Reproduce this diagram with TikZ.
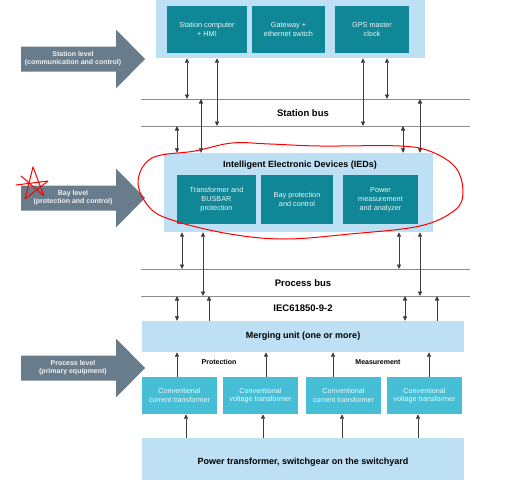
\documentclass[tikz,border=0pt]{standalone}
\usepackage{fontspec}
\setmainfont{Liberation Sans}
\usepackage{tikz}
\usetikzlibrary{arrows.meta}

\definecolor{panelblue}{HTML}{BDE0F5}
\definecolor{tealbox}{HTML}{0F8796}
\definecolor{cyanbox}{HTML}{45BED6}
\definecolor{levelgray}{HTML}{687C8B}
\definecolor{busgray}{HTML}{8C8C8C}
\definecolor{wirecol}{HTML}{3C3C3C}

\tikzset{
  panel/.style={fill=panelblue, inner sep=0pt, font=\bfseries\fontsize{9}{11}\selectfont, text=black},
  unitbox/.style={fill=tealbox, inner sep=0pt, align=center, text=white!92!tealbox, font=\fontsize{7.3}{9}\selectfont},
  ctbox/.style={fill=cyanbox, inner sep=0pt, align=center, text=white!92!cyanbox, font=\fontsize{7.2}{8.6}\selectfont},
  buslabel/.style={font=\bfseries\fontsize{9.5}{11}\selectfont},
  smalllabel/.style={font=\bfseries\fontsize{7}{8}\selectfont},
  leveltext/.style={align=center, text=white!90!levelgray, font=\bfseries\fontsize{7}{8}\selectfont},
  busline/.style={busgray, line width=0.8pt},
  dblarr/.style={wirecol, line width=0.8pt, {Triangle[length=4.5pt,width=4.2pt]}-{Triangle[length=4.5pt,width=4.2pt]}},
  uparr/.style={wirecol, line width=0.8pt, -{Triangle[length=4.5pt,width=4.2pt]}},
  redmark/.style={red, line width=1pt, line cap=round, line join=round}
}

\begin{document}
\begin{tikzpicture}[x=1pt, y=-1pt]
			\clip (0,0) rectangle (531,480);
			\fill[white] (0,0) rectangle (531,480);
			
			% station level
			\node[panel, minimum width=269pt, minimum height=62pt] (stpanel) at (290.5,27) {};
			\node[unitbox, minimum width=80pt, minimum height=47pt] (stcomp) at (207,29.5) {Station computer\\+ HMI};
			\node[unitbox, minimum width=73pt, minimum height=47pt] (gate) at (288.5,29.5) {Gateway +\\ethernet switch};
			\node[unitbox, minimum width=74pt, minimum height=47pt] (gps) at (372,29.5) {GPS master\\clock};
			
			% station bus
			\coordinate (sbtl) at (141,99);
			\coordinate (sbtr) at (470,99);
			\coordinate (sbbl) at (141,126);
			\coordinate (sbbr) at (470,126);
			\draw[busline] (sbtl) -- (sbtr);
			\draw[busline] (sbbl) -- (sbbr);
			\node[buslabel] (stbus) at (303,113) {Station bus};
			
			% bay level
			\node[panel, minimum width=269pt, minimum height=79pt] (iedpanel) at (298.5,192.5) {};
			\node[panel, fill=none] (iedtitle) at (300,165) {Intelligent Electronic Devices (IEDs)};
			\node[unitbox, minimum width=79pt, minimum height=49pt] (trafo) at (216.5,199.5) {Transformer and\\BUSBAR\\protection};
			\node[unitbox, minimum width=72pt, minimum height=49pt] (bayprot) at (297,199.5) {Bay protection\\and control};
			\node[unitbox, minimum width=75pt, minimum height=49pt] (powmeas) at (380.5,199.5) {Power\\measurement\\and analyzer};
			
			% process bus
			\coordinate (pbtl) at (141,269);
			\coordinate (pbtr) at (470,269);
			\coordinate (pbbl) at (141,296);
			\coordinate (pbbr) at (470,296);
			\draw[busline] (pbtl) -- (pbtr);
			\draw[busline] (pbbl) -- (pbbr);
			\node[buslabel] (prbus) at (303,283) {Process bus};
			\node[buslabel] (iec) at (303,308) {IEC61850-9-2};
			
			% process level
			\node[panel, minimum width=322pt, minimum height=31pt] (merge) at (303,336.5) {Merging unit (one or more)};
			\node[smalllabel] (prot) at (219,362) {Protection};
			\node[smalllabel] (meas) at (378,362) {Measurement};
			\node[ctbox, minimum width=75pt, minimum height=37pt] (ct1) at (179.5,395.5) {Conventional\\current transformer};
			\node[ctbox, minimum width=75pt, minimum height=37pt] (vt1) at (260.5,395.5) {Conventional\\voltage transformer};
			\node[ctbox, minimum width=75pt, minimum height=37pt] (ct2) at (343.5,395.5) {Conventional\\current transformer};
			\node[ctbox, minimum width=75pt, minimum height=37pt] (vt2) at (424.5,395.5) {Conventional\\voltage transformer};
			\node[panel, minimum width=322pt, minimum height=46pt] (yard) at (303,461) {};
			\node[panel, fill=none] (yardtext) at (303,462) {Power transformer, switchgear on the switchyard};
			
			% level arrows
			\foreach \n/\y/\t in {lvst/59/{Station level\\(communication and control)},
			                      lvbay/198/{Bay level\\(protection and control)},
			                      lvpr/368/{Process level\\(primary equipment)}} {
				\fill[levelgray] (21,\y-12.5) -- (116,\y-12.5) -- (116,\y-29.5) -- (145,\y)
				  -- (116,\y+29.5) -- (116,\y+12.5) -- (21,\y+12.5) -- cycle;
				\node[leveltext] (\n) at (73,\y) {\t};
			}
			
			% connections station panel <-> station bus <-> IEDs
			\foreach \x/\e in {187/sbtl, 217/sbbl, 363/sbbl, 387/sbtl}
				\draw[dblarr] (stpanel.south -| \x,0) -- (\e -| \x,0);
			\foreach \x/\e in {177/sbbl, 201/sbtl, 403/sbbl, 420/sbtl}
				\draw[dblarr] (\e -| \x,0) -- (iedpanel.north -| \x,0);
			
			% IEDs <-> process bus <-> merging unit
			\foreach \x/\e in {182/pbtl, 203/pbbl, 399/pbtl, 420/pbbl}
				\draw[dblarr] (iedpanel.south -| \x,0) -- (\e -| \x,0);
			\foreach \x in {177, 405}
				\draw[dblarr] (pbbl -| \x,0) -- (merge.north -| \x,0);
			\foreach \x in {209, 437}
				\draw[uparr] (merge.north -| \x,0) -- (pbbl -| \x,0);
			
			% transformers -> merging unit, switchyard -> transformers
			\foreach \b/\x in {ct1/177, vt1/266, ct2/333, vt2/429}
				\draw[uparr] (\b.north -| \x,0) -- (merge.south -| \x,0);
			\foreach \b/\x in {ct1/186, vt1/263, ct2/342, vt2/418}
				\draw[uparr] (yard.north -| \x,0) -- (\b.south -| \x,0);
			
			% red markup
			\draw[redmark] plot[smooth cycle, tension=0.6] coordinates {(152,158) (138,182) (150,208) (175,221)
			  (230,234) (285,239) (350,234) (420,226) (455,210) (463,192) (456,168) (432,152) (400,146)
			  (320,146) (270,144) (232,143) (195,151)};
			\draw[redmark] (16,185) -- (48,181) -- (25,199) -- (33,167) -- (44,196) -- (21,176);
\end{tikzpicture}
\end{document}
